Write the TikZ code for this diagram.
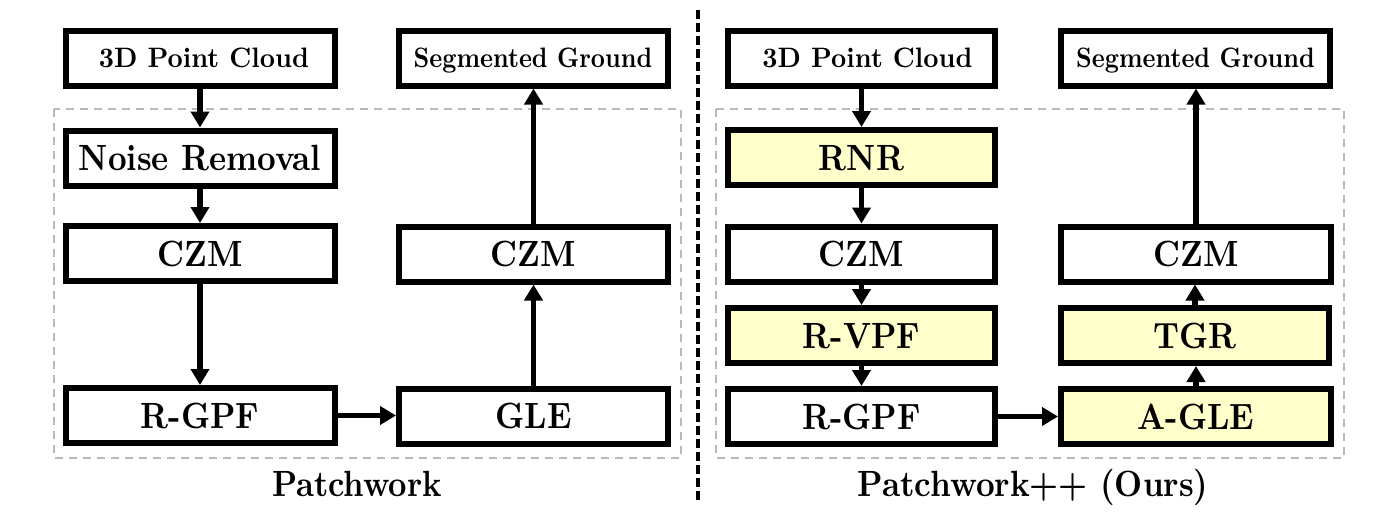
\documentclass[tikz,border=0pt]{standalone}
\usepackage{fontspec}
\usepackage{graphicx}
\usetikzlibrary{arrows.meta}
\definecolor{boxyellow}{HTML}{FFFFCC}
\definecolor{dashgray}{RGB}{185,185,185}
% text set in the 10pt design size, then scaled (heavier, wider strokes)
\newcommand{\bt}[3]{\scalebox{#1}[#2]{\fontsize{10}{12}\selectfont\bfseries #3}}
\newcommand{\bodytxt}[1]{\bt{3.24}{3.65}{#1}}
\tikzset{
  blk/.style={draw=black, line width=6pt, fill=white, minimum width=267pt,
    minimum height=55pt, inner sep=0pt, text depth=0pt, text height=25pt},
  topblk/.style={blk, text height=19.3pt},
  hl/.style={fill=boxyellow},
  arr/.style={line width=5.5pt, -{Triangle[length=16pt,width=18pt]}},
  grp/.style={draw=dashgray, line width=2pt, dash pattern=on 8pt off 6pt},
  divider/.style={line width=4pt, dash pattern=on 9pt off 4pt},
  caption/.style={inner sep=0pt, anchor=base},
}
\begin{document}
\begin{tikzpicture}[x=1pt, y=-1pt]
\useasboundingbox[fill=white] (0,0) rectangle (1384,512);
% groups
\draw[grp] (54,109) rectangle (681,458);
\draw[grp] (716,109) rectangle (1344,458);
\coordinate (dtop) at (698,10);
\coordinate (dbot) at (698,500);
\draw[divider] (dtop) -- (dbot);
% left column A
\node[topblk, minimum width=269pt] (a0) at (200,58) {\hspace*{8pt}\bt{2.65}{2.81}{3D Point Cloud}};
\node[blk, minimum width=269pt] (a1) at (200,158) {\bodytxt{Noise Removal}};
\node[blk, minimum width=269pt] (a2) at (200,253.5) {\bodytxt{CZM}};
\node[blk, minimum width=269pt] (a4) at (200,415.5) {\bodytxt{R-GPF}};
% left column B
\node[topblk, minimum width=269pt] (b0) at (533,58) {\bt{2.46}{2.81}{Segmented Ground}};
\node[blk, minimum width=269pt] (b2) at (533.5,254) {\bodytxt{CZM}};
\node[blk, minimum width=269pt] (b4) at (533.5,416) {\bodytxt{GLE}};
% right column C
\node[topblk] (c0) at (861.5,58) {\hspace*{12pt}\bt{2.65}{2.81}{3D Point Cloud}};
\node[blk, hl] (c1) at (861.5,157.5) {\bodytxt{RNR}};
\node[blk] (c2) at (861.5,254) {\bodytxt{CZM}};
\node[blk, hl] (c3) at (861.5,335.5) {\bodytxt{R-VPF}};
\node[blk] (c4) at (861.5,416.5) {\bodytxt{R-GPF}};
% right column D
\node[topblk, minimum width=269pt] (d0) at (1195.5,58) {\bt{2.46}{2.81}{Segmented Ground}};
\node[blk, minimum width=270pt] (d2) at (1196,254) {\bodytxt{CZM}};
\node[blk, hl, minimum width=268pt] (d3) at (1195,335.5) {\bodytxt{TGR}};
\node[blk, hl, minimum width=270pt] (d4) at (1196,416.5) {\bodytxt{A-GLE}};
% captions
\node[caption] (capL) at (357,496) {\bt{3.2}{3.65}{Patchwork}};
\node[caption] (capR) at (1033,496) {\bt{3.25}{3.65}{Patchwork++ (Ours)}};
% arrows left
\draw[arr] (a0) -- (a1);
\draw[arr] (a1) -- (a2);
\draw[arr] (a2) -- (a4);
\draw[arr] (a4) -- (a4 -| b4.west);
\draw[arr] (b4) -- (b2);
\draw[arr] (b2.north) -- (b2.north |- b0.south);
% arrows right
\draw[arr] (c0) -- (c1);
\draw[arr] (c1) -- (c2);
\draw[arr] (c2) -- (c3);
\draw[arr] (c3) -- (c4);
\draw[arr] (c4) -- (c4 -| d4.west);
\draw[arr] (d4.north) -- (d4.north |- d3.south);
\draw[arr] (d3.north) -- (d3.north |- d2.south);
\draw[arr] (d2.north) -- (d2.north |- d0.south);
\end{tikzpicture}
\end{document}
